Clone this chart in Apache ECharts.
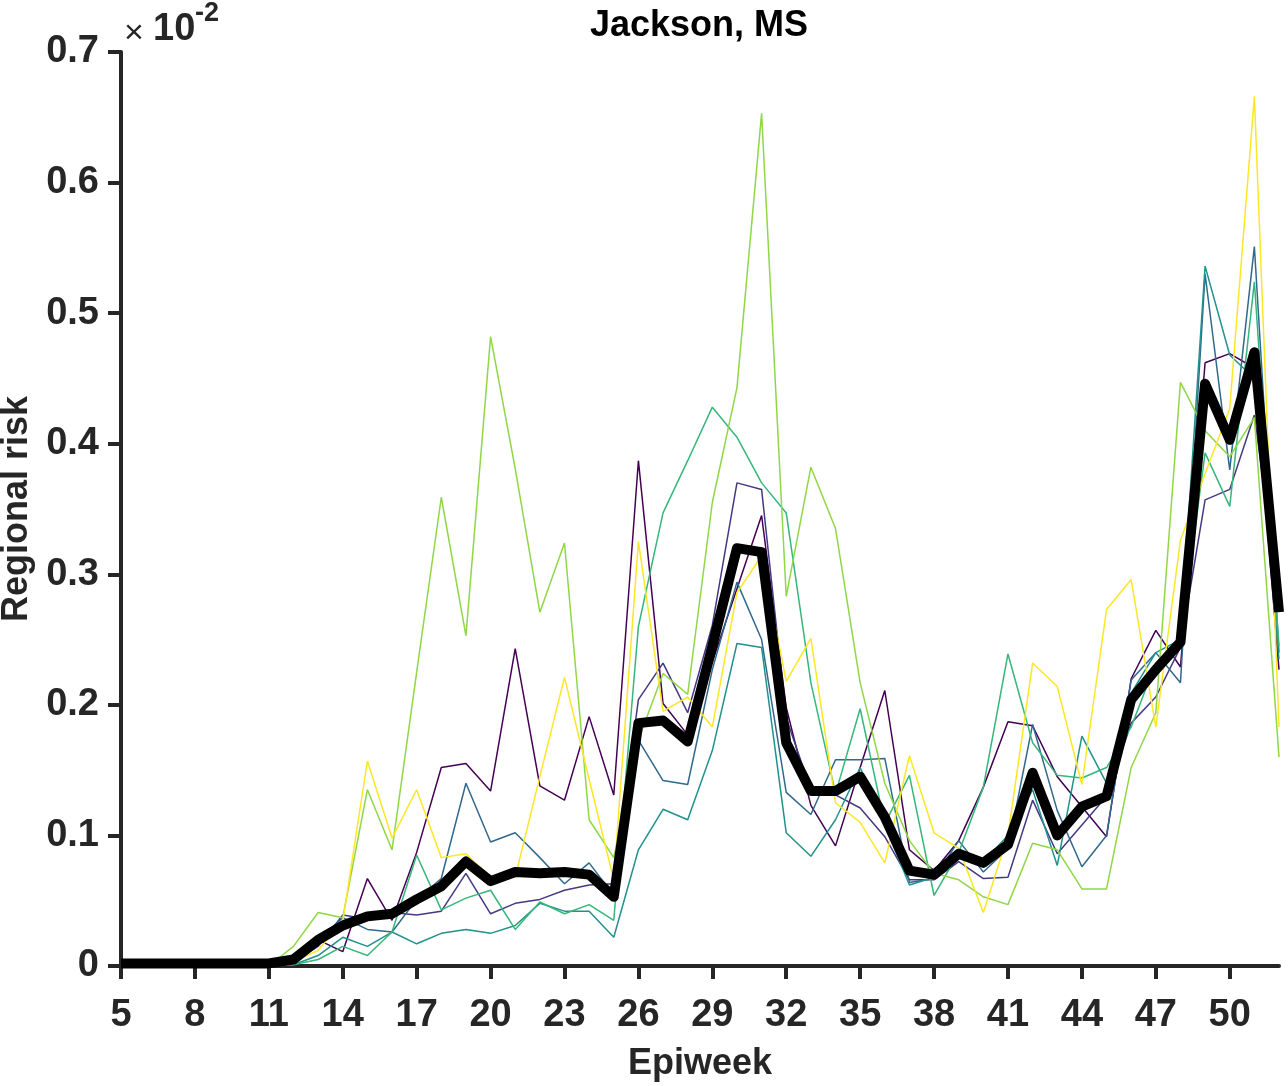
<!DOCTYPE html>
<html>
<head>
<meta charset="utf-8">
<script src="https://cdn.jsdelivr.net/npm/echarts@6/dist/echarts.min.js"></script>
<style>
html,body{margin:0;padding:0;background:#fff;}
#chart{width:1288px;height:1086px;}
</style>
</head>
<body>
<div id="chart"></div>
<script>
// Epiweeks 5..52
const weeks = [5,6,7,8,9,10,11,12,13,14,15,16,17,18,19,20,21,22,23,24,25,26,27,28,29,30,31,32,33,34,35,36,37,38,39,40,41,42,43,44,45,46,47,48,49,50,51,52];
const xTickValues = [5,8,11,14,17,20,23,26,29,32,35,38,41,44,47,50];
const yTickValues = [0,0.1,0.2,0.3,0.4,0.5,0.6,0.7];

// Regional risk (x 10^-2), one array per ensemble member
const purple = [0.002,0.002,0.002,0.002,0.002,0.002,0.002,0.005,0.02,0.011,0.067,0.035,0.087,0.152,0.155,0.134,0.243,0.138,0.127,0.191,0.131,0.387,0.201,0.177,0.233,0.289,0.345,0.198,0.123,0.092,0.152,0.211,0.089,0.073,0.096,0.137,0.187,0.184,0.145,0.122,0.099,0.22,0.257,0.229,0.462,0.469,0.458,0.227];
const indigo = [0.001,0.001,0.001,0.001,0.001,0.001,0.001,0.003,0.015,0.039,0.036,0.041,0.039,0.042,0.071,0.040,0.048,0.051,0.058,0.062,0.063,0.204,0.232,0.194,0.261,0.37,0.365,0.19,0.135,0.131,0.121,0.099,0.066,0.066,0.080,0.067,0.068,0.127,0.086,0.108,0.130,0.186,0.206,0.244,0.357,0.365,0.422,0.28];
const blue = [0.001,0.001,0.001,0.001,0.001,0.001,0.001,0.003,0.02,0.037,0.028,0.026,0.051,0.067,0.140,0.095,0.102,0.083,0.063,0.079,0.054,0.173,0.142,0.139,0.227,0.294,0.250,0.133,0.116,0.158,0.158,0.159,0.064,0.067,0.096,0.072,0.09,0.185,0.119,0.076,0.10,0.219,0.24,0.217,0.53,0.38,0.551,0.24];
const teal = [0,0,0,0,0,0,0,0.001,0.008,0.022,0.015,0.026,0.017,0.025,0.028,0.025,0.031,0.048,0.042,0.042,0.022,0.089,0.12,0.112,0.165,0.247,0.244,0.102,0.084,0.112,0.152,0.108,0.062,0.068,0.085,0.08,0.10,0.135,0.077,0.176,0.14,0.209,0.24,0.25,0.536,0.468,0.45,0.235];
const green = [0,0,0,0,0,0,0,0.001,0.005,0.015,0.008,0.026,0.085,0.043,0.052,0.058,0.028,0.049,0.04,0.047,0.035,0.26,0.347,0.387,0.428,0.405,0.37,0.347,0.217,0.132,0.197,0.109,0.146,0.054,0.087,0.137,0.239,0.171,0.146,0.144,0.152,0.183,0.232,0.25,0.393,0.352,0.524,0.245];
const lime = [0,0,0,0,0,0,0,0.015,0.041,0.037,0.135,0.089,0.225,0.359,0.253,0.482,0.381,0.271,0.324,0.112,0.083,0.173,0.224,0.208,0.355,0.443,0.653,0.283,0.382,0.335,0.217,0.140,0.096,0.071,0.066,0.053,0.047,0.094,0.089,0.059,0.059,0.152,0.194,0.447,0.41,0.39,0.42,0.16];
const yellow = [0,0,0,0,0,0,0,0.003,0.012,0.034,0.157,0.098,0.135,0.083,0.086,0.068,0.068,0.145,0.221,0.143,0.066,0.325,0.195,0.206,0.183,0.286,0.314,0.218,0.251,0.125,0.110,0.079,0.161,0.102,0.090,0.041,0.10,0.232,0.214,0.139,0.273,0.296,0.183,0.326,0.377,0.427,0.666,0.183];
const mean = [0.002,0.002,0.002,0.002,0.002,0.002,0.002,0.005,0.02,0.031,0.038,0.04,0.051,0.061,0.080,0.065,0.072,0.071,0.072,0.070,0.053,0.186,0.188,0.172,0.245,0.32,0.317,0.171,0.134,0.134,0.145,0.114,0.073,0.070,0.086,0.079,0.093,0.148,0.100,0.122,0.13,0.204,0.227,0.248,0.446,0.403,0.47,0.271];

const members = [
  {name:'m1', data:purple, color:'#440154'},
  {name:'m2', data:indigo, color:'#443983'},
  {name:'m3', data:blue,   color:'#31688e'},
  {name:'m4', data:teal,   color:'#21918c'},
  {name:'m5', data:green,  color:'#35b779'},
  {name:'m6', data:lime,   color:'#8fd744'},
  {name:'m7', data:yellow, color:'#fde725'}
];

const pairs = arr => weeks.map((w,i)=>[w, arr[i]]);
const FONT = '"Liberation Sans", Arial, Helvetica, sans-serif';
const AX = '#262626';

const series = members.map(m => ({
  type:'line', name:m.name, data:pairs(m.data), showSymbol:false, symbol:'none',
  lineStyle:{color:m.color, width:1.5}, itemStyle:{color:m.color}, animation:false
}));
series.push({
  type:'line', name:'mean', data:pairs(mean), showSymbol:false, symbol:'none',
  lineStyle:{color:'#000', width:10, join:'round', cap:'butt'}, itemStyle:{color:'#000'}, z:5, animation:false
});

const chart = echarts.init(document.getElementById('chart'), null, {renderer:'canvas'});
chart.setOption({
  animation:false,
  backgroundColor:'#fff',
  title:{
    text:'Jackson, MS', left:699, top:8, textAlign:'center', padding:0,
    textStyle:{fontFamily:FONT, fontWeight:'bold', fontSize:36, color:'#000'}
  },
  grid:{left:121, right:9, top:52, bottom:120, containLabel:false, outerBoundsMode:'none'},
  xAxis:{
    type:'value', min:5, max:52,
    name:'Epiweek', nameLocation:'middle', nameGap:80,
    nameTextStyle:{fontFamily:FONT, fontWeight:'bold', fontSize:36, color:AX},
    axisLine:{show:true, onZero:false, lineStyle:{color:AX, width:4}},
    axisTick:{show:true, inside:false, length:13, lineStyle:{color:AX, width:4}, customValues:xTickValues},
    axisLabel:{fontFamily:FONT, fontWeight:'bold', fontSize:38, color:AX, margin:31, customValues:xTickValues},
    splitLine:{show:false}
  },
  yAxis:{
    type:'value', min:0, max:0.7, interval:0.1,
    name:'Regional risk', nameLocation:'middle', nameGap:86, nameRotate:90,
    nameTextStyle:{fontFamily:FONT, fontWeight:'bold', fontSize:36, color:AX},
    axisLine:{show:true, lineStyle:{color:AX, width:4}},
    axisTick:{show:true, inside:false, length:13, lineStyle:{color:AX, width:4}, customValues:yTickValues},
    axisLabel:{fontFamily:FONT, fontWeight:'bold', fontSize:38, color:AX, margin:22, customValues:yTickValues,
      formatter: v => v === 0 ? '0' : v.toFixed(1)},
    splitLine:{show:false}
  },
  graphic:[
    {type:'text', left:124, top:17, style:{text:'\u00d7', font:'normal 34px ' + FONT, fill:AX}},
    {type:'text', left:153, top:11, style:{text:'10', font:'bold 38px ' + FONT, fill:AX}},
    {type:'text', left:195, top:0, style:{text:'-2', font:'bold 27px ' + FONT, fill:AX}}
  ],
  series:series
});
</script>
</body>
</html>
